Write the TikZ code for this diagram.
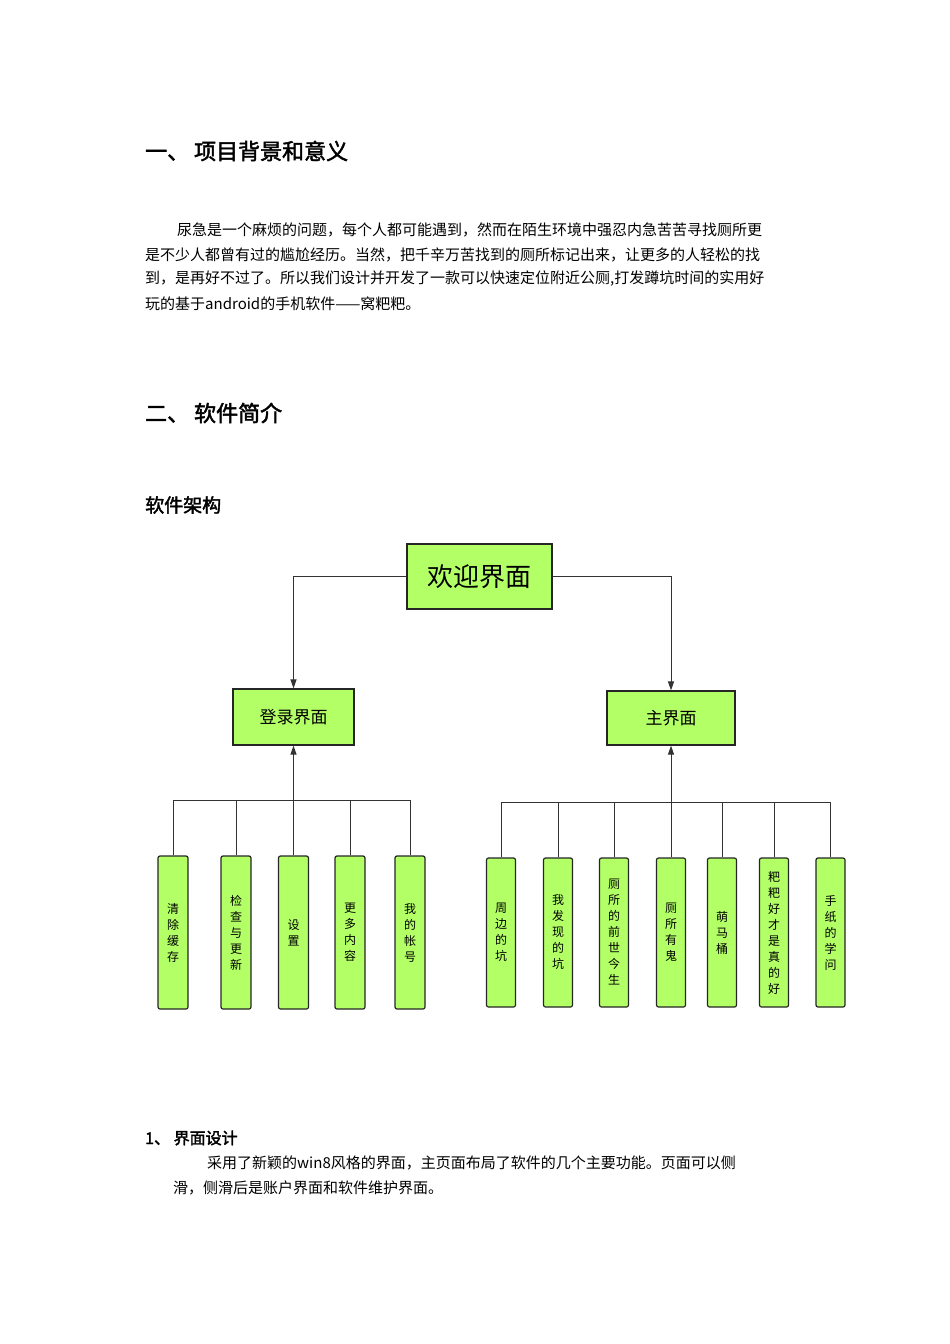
\documentclass[tikz,border=0pt]{standalone}
\usepackage{fontspec}
\setmainfont{Liberation Serif}
\newfontfamily\cjk{Noto Sans CJK SC}
\newfontfamily\cjkb[FakeBold=2]{Noto Sans CJK SC}
\usetikzlibrary{arrows.meta}
\definecolor{gbox}{HTML}{B3FF66}
\tikzset{
  top/.style={draw=black!85,line width=1.2pt,fill=gbox,minimum width=#1,inner sep=0pt},
  leaf/.style={draw=black!85,line width=1.2pt,fill=gbox,rounded corners=2pt,minimum width=30pt,minimum height=153pt,inner sep=0pt,align=center,font=\cjk\fontsize{12}{16}\selectfont},
  conn/.style={draw=black!80,line width=1pt},
  arr/.style={conn,-{Triangle[length=9pt,width=6pt]}},
  body/.style={anchor=west,inner sep=0pt,font=\cjk\fontsize{15}{18}\selectfont},
  head/.style={anchor=west,inner sep=0pt,font=\cjkb\fontsize{22}{26}\selectfont}
}
\begin{document}
\begin{tikzpicture}[x=1pt,y=-1pt]
\useasboundingbox[fill=white] (0,0) rectangle (950,1344);
\node[head] (h1) at (145,151) {一、 项目背景和意义};
\node[body] (p1) at (177,230) {尿急是一个麻烦的问题，每个人都可能遇到，然而在陌生环境中强忍内急苦苦寻找厕所更};
\node[body] (p2) at (145,255) {是不少人都曾有过的尴尬经历。当然，把千辛万苦找到的厕所标记出来，让更多的人轻松的找};
\node[body] (p3) at (145,279) {到，是再好不过了。所以我们设计并开发了一款可以快速定位附近公厕,打发蹲坑时间的实用好};
\node[body] (p4) at (145,304) {玩的基于android的手机软件——窝粑粑。};
\node[head] (h2) at (145,413) {二、 软件简介};
\node[head,font=\cjkb\fontsize{19}{22}\selectfont] (h3) at (145,505) {软件架构};

\node[top=145pt,minimum height=65pt,font=\cjk\fontsize{26}{30}\selectfont] (w) at (479.5,576.5) {欢迎界面};
\node[top=121pt,minimum height=56pt,font=\cjk\fontsize{17}{20}\selectfont] (l) at (293.5,717) {登录界面};
\node[top=128pt,minimum height=54pt,font=\cjk\fontsize{17}{20}\selectfont] (m) at (671,718) {主界面};
\draw[arr] (w.west) -| (l.north);
\draw[arr] (w.east) -| (m.north);

\foreach \n/\x/\t in {a1/173/清\\除\\缓\\存, a2/236/检\\查\\与\\更\\新, a3/293.5/设\\置, a4/350/更\\多\\内\\容, a5/410/我\\的\\帐\\号}{
  \node[leaf] (\n) at (\x,932.5) {\t};
}
\coordinate (lb) at (293.5,800);
\draw[conn] (a1.north) |- (a5.north |- lb) -- (a5.north);
\foreach \n in {a2,a3,a4} \draw[conn] (\n.north) -- (\n.north |- lb);
\draw[arr] (lb) -- (l.south);

\foreach \n/\x/\t in {b1/501/周\\边\\的\\坑, b2/558/我\\发\\现\\的\\坑, b3/614/厕\\所\\的\\前\\世\\今\\生, b4/671/厕\\所\\有\\鬼, b5/722/萌\\马\\桶, b6/774/粑\\粑\\好\\才\\是\\真\\的\\好, b7/830.5/手\\纸\\的\\学\\问}{
  \node[leaf,minimum width=29pt,minimum height=149pt] (\n) at (\x,932.5) {\t};
}
\coordinate (rb) at (671,802);
\draw[conn] (b1.north) |- (b7.north |- rb) -- (b7.north);
\foreach \n in {b2,b3,b4,b5,b6} \draw[conn] (\n.north) -- (\n.north |- rb);
\draw[arr] (rb) -- (m.south);

\node[anchor=west,inner sep=0pt,font=\cjkb\fontsize{16}{19}\selectfont] (h4) at (145,1138) {1、 界面设计};
\node[body] (q1) at (207,1163) {采用了新颖的win8风格的界面，主页面布局了软件的几个主要功能。页面可以侧};
\node[body] (q2) at (173,1188) {滑，侧滑后是账户界面和软件维护界面。};
\end{tikzpicture}
\end{document}
